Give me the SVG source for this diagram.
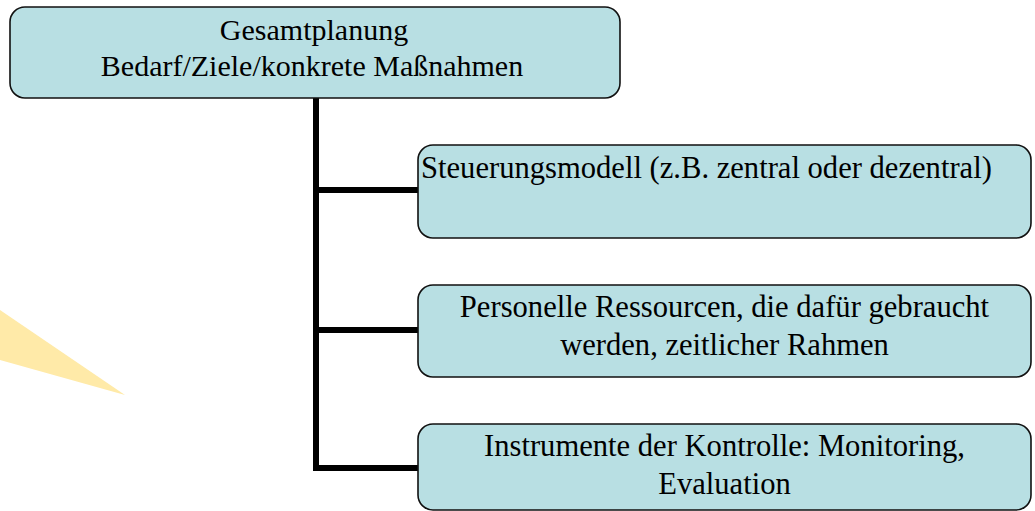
<svg xmlns="http://www.w3.org/2000/svg" width="1035" height="511" viewBox="0 0 1035 511">
<style>
.box{fill:#b8dfe3;stroke:#111;stroke-width:1.6}
.t{font-family:'Liberation Serif','Times New Roman',serif;font-size:30.6px;fill:#000}
.top{font-size:30px}
.c{text-anchor:middle}
.conn{stroke:#000;stroke-width:6;fill:none}
</style>
<rect width="1035" height="511" fill="#fff"/>
<polygon points="0,310 125,395 0,360" fill="#ffeaa8"/>
<g id="connectors">
<path class="conn" d="M316,98 V471"/>
<path class="conn" d="M313,190 H418"/>
<path class="conn" d="M313,330 H418"/>
<path class="conn" d="M313,468 H418"/>
</g>
<g id="node-gesamt">
<rect class="box" x="10" y="7" width="610" height="91" rx="15"/>
<text class="t top c" x="314" y="40">Gesamtplanung</text>
<text class="t top c" x="312" y="76">Bedarf/Ziele/konkrete Maßnahmen</text>
</g>
<g id="node-steuerung">
<rect class="box" x="418" y="145" width="613" height="93" rx="15"/>
<text class="t" x="421" y="178">Steuerungsmodell (z.B. zentral oder dezentral)</text>
</g>
<g id="node-personell">
<rect class="box" x="418" y="285" width="613" height="92" rx="15"/>
<text class="t c" x="724.5" y="317">Personelle Ressourcen, die dafür gebraucht</text>
<text class="t c" x="724.5" y="355">werden, zeitlicher Rahmen</text>
</g>
<g id="node-instrumente">
<rect class="box" x="418" y="424" width="613" height="86" rx="15"/>
<text class="t c" x="724.5" y="456">Instrumente der Kontrolle: Monitoring,</text>
<text class="t c" x="724.5" y="494">Evaluation</text>
</g>
</svg>
